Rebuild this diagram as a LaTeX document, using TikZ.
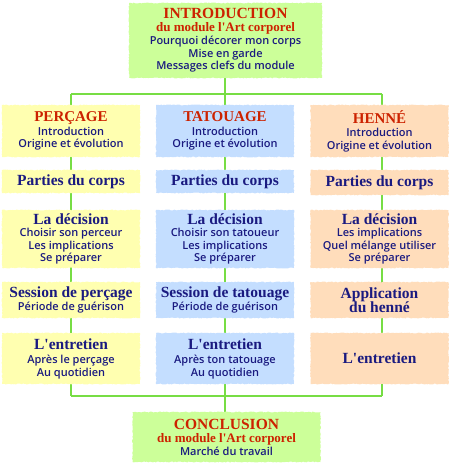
\documentclass[tikz,border=0pt]{standalone}
\usepackage{fontspec}
\setmainfont{Open Sans}[UprightFont={* Semibold}]
\newfontfamily\decofont{Liberation Serif}
\usetikzlibrary{decorations.pathmorphing,backgrounds}
\definecolor{navyt}{HTML}{1A1A80}
\definecolor{redt}{HTML}{CC2200}
\definecolor{boxgreen}{HTML}{CCFF99}
\definecolor{boxyellow}{HTML}{FFFFB0}
\definecolor{boxblue}{HTML}{C4DEFF}
\definecolor{boxpeach}{HTML}{FFDDBB}
\definecolor{linegreen}{HTML}{77DD44}
\newcommand\redbig[1]{{\decofont\bfseries\color{redt}\fontsize{15.5}{15}\selectfont #1}}
\newcommand\redsmall[1]{{\decofont\bfseries\color{redt}\fontsize{13}{13}\selectfont #1}}
\newcommand\redcol[1]{{\decofont\bfseries\color{redt}\fontsize{15}{15}\selectfont #1}}
\newcommand\bluehead[1]{{\decofont\bfseries\color{navyt}\fontsize{15.5}{15}\selectfont #1}}
\begin{document}
\begin{tikzpicture}[x=1pt,y=-1pt,
  box/.style={inner sep=0pt, align=center, text=navyt,
    font=\fontsize{11}{12.5}\selectfont,
    decorate, decoration={random steps,segment length=1.3pt,amplitude=0.5pt}},
  colbox/.style={box, minimum width=138pt},
  ylw/.style={colbox, fill=boxyellow},
  blu/.style={colbox, fill=boxblue},
  pch/.style={colbox, fill=boxpeach},
  grn/.style={box, fill=boxgreen},
  link/.style={draw=linegreen, line width=2pt}]
\useasboundingbox (0,0) rectangle (450,465);

% intro / conclusion
\node[grn, minimum width=193pt, minimum height=75pt] (intro) at (225.5,40.5)
  {\redbig{INTRODUCTION}\\[0.5pt]\redsmall{du module l'Art corporel}\\[0.5pt]
   Pourquoi décorer mon corps\\Mise en garde\\Messages clefs du module};
\node[grn, minimum width=188pt, minimum height=50pt] (concl) at (226.5,437)
  {\redbig{CONCLUSION}\\[0.5pt]\redsmall{du module l'Art corporel}\\[0.5pt]
   Marché du travail};

% left column
\node[ylw, minimum height=52pt] (p1) at (71,131)
  {\redcol{PERÇAGE}\\[1pt]Introduction\\Origine et évolution};
\node[ylw, minimum height=23pt] (p2) at (71,181.5) {\bluehead{Parties du corps}};
\node[ylw, minimum height=58pt] (p3) at (71,239)
  {\bluehead{La décision}\\Choisir son perceur\\Les implications\\Se préparer};
\node[ylw, minimum height=36pt] (p4) at (71,300)
  {\bluehead{Session de perçage}\\Période de guérison};
\node[ylw, minimum height=51pt] (p5) at (71,358.5)
  {\bluehead{L'entretien}\\[2pt]Après le perçage\\Au quotidien};

% middle column
\node[blu, minimum height=52pt] (t1) at (225,131)
  {\redcol{TATOUAGE}\\[1pt]Introduction\\Origine et évolution};
\node[blu, minimum height=23pt] (t2) at (225,181.5) {\bluehead{Parties du corps}};
\node[blu, minimum height=58pt] (t3) at (225,239)
  {\bluehead{La décision}\\Choisir son tatoueur\\Les implications\\Se préparer};
\node[blu, minimum height=36pt] (t4) at (225,300)
  {\bluehead{Session de tatouage}\\Période de guérison};
\node[blu, minimum height=51pt] (t5) at (225,358.5)
  {\bluehead{L'entretien}\\[2pt]Après ton tatouage\\Au quotidien};

% right column
\node[pch, minimum height=52pt] (h1) at (379.5,131)
  {\redcol{HENNÉ}\\[1pt]Introduction\\Origine et évolution};
\node[pch, minimum height=25pt] (h2) at (379.5,182.5) {\bluehead{Parties du corps}};
\node[pch, minimum height=58pt] (h3) at (379.5,239)
  {\bluehead{La décision}\\Les implications\\Quel mélange utiliser\\Se préparer};
\node[pch, minimum height=36pt] (h4) at (379.5,300)
  {\bluehead{Application}\\[-1pt]\bluehead{du henné}};
\node[pch, minimum height=51pt] (h5) at (379.5,358.5)
  {\bluehead{L'entretien}};

% connectors
\coordinate (tl) at (71,94);
\coordinate (tm) at (225,94);
\coordinate (tr) at (382,94);
\coordinate (bl) at (71,396);
\coordinate (bm) at (225,396);
\coordinate (br) at (382,396);
\begin{scope}[on background layer]
  \fill[white] (0,0) rectangle (450,465);
  \draw[link] (intro.south -| tm) -- (tm);
  \draw[link] (tl) -- (tr);
  \draw[link] (tl) -- (bl);
  \draw[link] (tm) -- (bm);
  \draw[link] (tr) -- (br);
  \draw[link] (bl) -- (br);
  \draw[link] (bm) -- (concl.north -| bm);
\end{scope}
\end{tikzpicture}
\end{document}
